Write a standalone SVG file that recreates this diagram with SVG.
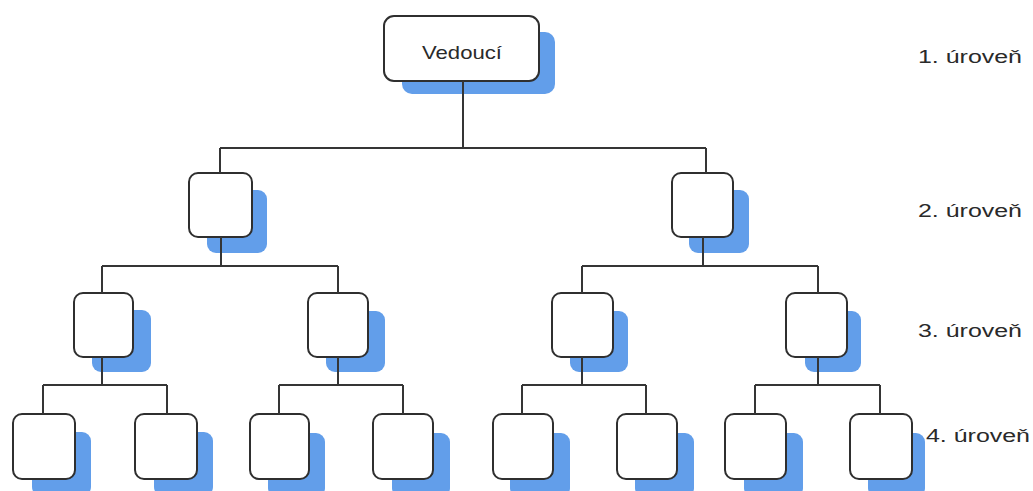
<svg xmlns="http://www.w3.org/2000/svg" width="1033" height="491" viewBox="0 0 1033 491">
  <style>
    .shadow { fill: #629eea; }
    .box { fill: #ffffff; stroke: #2f2f2f; stroke-width: 2; }
    .link { fill: none; stroke: #353535; stroke-width: 2; }
    .label { font-family: "Liberation Sans", Arial, sans-serif; font-size: 18px; fill: #2a2a2a; }
    .title { font-family: "Liberation Sans", Arial, sans-serif; font-size: 19px; fill: #2a2a2a; text-anchor: middle; }
  </style>
  <rect width="1033" height="491" fill="#ffffff"/>

  <!-- Level 1 -->
  <g id="n-vedouci">
    <rect class="shadow" x="402" y="32" width="153" height="62" rx="10"/>
    <rect class="box" x="384" y="16" width="155" height="65" rx="10"/>
    <text class="title" x="462" y="59" textLength="80" lengthAdjust="spacingAndGlyphs">Vedoucí</text>
  </g>

  <!-- Level 2 -->
  <g id="n-2a">
    <rect class="shadow" x="207" y="190" width="60" height="63" rx="9"/>
    <rect class="box" x="189" y="173" width="63" height="64" rx="9"/>
  </g>
  <g id="n-2b">
    <rect class="shadow" x="689" y="190" width="60" height="63" rx="9"/>
    <rect class="box" x="672" y="173" width="61" height="64" rx="9"/>
  </g>

  <!-- Level 3 -->
  <g id="n-3a">
    <rect class="shadow" x="92" y="310" width="59" height="62" rx="9"/>
    <rect class="box" x="74" y="293" width="59" height="64" rx="9"/>
  </g>
  <g id="n-3b">
    <rect class="shadow" x="326" y="311" width="59" height="61" rx="9"/>
    <rect class="box" x="308" y="293" width="60" height="64" rx="9"/>
  </g>
  <g id="n-3c">
    <rect class="shadow" x="570" y="311" width="58" height="61" rx="9"/>
    <rect class="box" x="552" y="293" width="61" height="64" rx="9"/>
  </g>
  <g id="n-3d">
    <rect class="shadow" x="805" y="311" width="56" height="61" rx="9"/>
    <rect class="box" x="786" y="293" width="61" height="64" rx="9"/>
  </g>

  <!-- Level 4 -->
  <g id="n-4a">
    <rect class="shadow" x="32" y="432" width="59" height="64" rx="9"/>
    <rect class="box" x="13" y="414" width="62" height="65" rx="9"/>
  </g>
  <g id="n-4b">
    <rect class="shadow" x="154" y="432" width="59" height="64" rx="9"/>
    <rect class="box" x="135" y="414" width="62" height="65" rx="9"/>
  </g>
  <g id="n-4c">
    <rect class="shadow" x="268" y="433" width="57" height="64" rx="9"/>
    <rect class="box" x="250" y="414" width="59" height="65" rx="9"/>
  </g>
  <g id="n-4d">
    <rect class="shadow" x="392" y="433" width="58" height="64" rx="9"/>
    <rect class="box" x="373" y="414" width="60" height="65" rx="9"/>
  </g>
  <g id="n-4e">
    <rect class="shadow" x="510" y="433" width="60" height="64" rx="9"/>
    <rect class="box" x="493" y="414" width="60" height="65" rx="9"/>
  </g>
  <g id="n-4f">
    <rect class="shadow" x="635" y="433" width="59" height="64" rx="9"/>
    <rect class="box" x="617" y="414" width="60" height="65" rx="9"/>
  </g>
  <g id="n-4g">
    <rect class="shadow" x="744" y="433" width="59" height="64" rx="9"/>
    <rect class="box" x="725" y="414" width="61" height="65" rx="9"/>
  </g>
  <g id="n-4h">
    <rect class="shadow" x="868" y="433" width="57" height="64" rx="9"/>
    <rect class="box" x="850" y="414" width="62" height="65" rx="9"/>
  </g>

  <!-- Connectors: vertical drop from each parent, bar, then drops to children -->
  <g id="connectors">
    <path class="link" d="M463 81 V148 M220 148 H706 M220 148 V173 M706 148 V173"/>
    <path class="link" d="M221 237 V266 M102 266 H338 M102 266 V293 M338 266 V293"/>
    <path class="link" d="M703 237 V266 M582 266 H818 M582 266 V293 M818 266 V293"/>
    <path class="link" d="M102 357 V385 M43 385 H167 M43 385 V414 M167 385 V414"/>
    <path class="link" d="M338 357 V385 M279 385 H403 M279 385 V414 M403 385 V414"/>
    <path class="link" d="M582 357 V385 M522 385 H646 M522 385 V414 M646 385 V414"/>
    <path class="link" d="M818 357 V385 M755 385 H880 M755 385 V414 M880 385 V414"/>
  </g>

  <!-- Level captions -->
  <g id="levels">
    <text class="label" x="918" y="63" textLength="104" lengthAdjust="spacingAndGlyphs">1. úroveň</text>
    <text class="label" x="918" y="217" textLength="104" lengthAdjust="spacingAndGlyphs">2. úroveň</text>
    <text class="label" x="918" y="337" textLength="104" lengthAdjust="spacingAndGlyphs">3. úroveň</text>
    <text class="label" x="926" y="442" textLength="104" lengthAdjust="spacingAndGlyphs">4. úroveň</text>
  </g>
</svg>
